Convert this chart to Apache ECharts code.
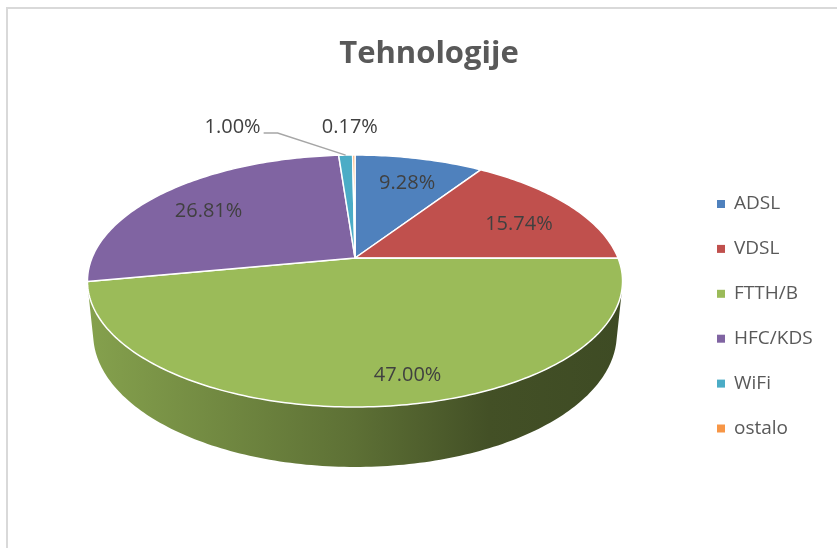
<!DOCTYPE html>
<html>
<head>
<meta charset="utf-8">
<script src="https://cdn.jsdelivr.net/npm/echarts@6/dist/echarts.min.js"></script>
<style>
html, body { margin: 0; padding: 0; background: #fff; }
#wrap { position: relative; width: 837px; height: 548px; overflow: hidden; }
#chart { width: 837px; height: 548px; }
#frame { position: absolute; left: 6px; top: 7px; right: -10px; bottom: -10px;
         border-left: 2px solid #d9d9d9; border-top: 2px solid #d9d9d9; pointer-events: none; }
</style>
</head>
<body>
<div id="wrap"><div id="chart"></div><div id="frame"></div></div>
<script>
// data
var categories = ['ADSL', 'VDSL', 'FTTH/B', 'HFC/KDS', 'WiFi', 'ostalo'];
var shares = [9.28, 15.74, 47.00, 26.81, 1.00, 0.17];
var colors = ['#4f81bd', '#c0504d', '#9bbb59', '#8064a2', '#4bacc6', '#f79646'];

// 3d look of the pie (excel style perspective)
var cam = { cx: 355, cy: 258, fx: 1280, fy: 1294, dist: 4.866, tilt: 27.26, depth: 0.226 };
// small screen nudges for the % labels, like excel puts them
var labelNudge = [[5, -2], [11, 4], [33, 20], [-11, 1], [-85, -28], [-4, -28]];

var total = shares.reduce(function (a, b) { return a + b; }, 0);
var pieData = [];
var acc = 0;
for (var i = 0; i < shares.length; i++) {
    pieData.push({ name: categories[i], value: [acc / total * 360, (acc + shares[i]) / total * 360, shares[i]] });
    acc += shares[i];
}

function project(deg, r, yw) {
    var t = deg * Math.PI / 180, a = cam.tilt * Math.PI / 180;
    var X = r * Math.sin(t), Z = r * Math.cos(t);
    var yc = yw * Math.cos(a) + Z * Math.sin(a);
    var w = cam.dist + Z * Math.cos(a) - yw * Math.sin(a);
    return [cam.cx + cam.fx * X / w, cam.cy - cam.fy * yc / w];
}

function arc(from, to, r, yw) {
    var n = Math.max(2, Math.ceil(Math.abs(to - from)));
    var pts = [];
    for (var k = 0; k <= n; k++) {
        pts.push(project(from + (to - from) * k / n, r, yw));
    }
    return pts;
}

function shade(hex, k) {
    var r = parseInt(hex.slice(1, 3), 16), g = parseInt(hex.slice(3, 5), 16), b = parseInt(hex.slice(5, 7), 16);
    return 'rgb(' + Math.round(r * k) + ',' + Math.round(g * k) + ',' + Math.round(b * k) + ')';
}

// where the side wall turns away from the viewer
var edgeR = Math.acos(-1 / (cam.dist * Math.cos(cam.tilt * Math.PI / 180))) * 180 / Math.PI;
var edgeL = 360 - edgeR;

function renderWall(params, api) {
    var t1 = Math.max(api.value(0), edgeR);
    var t2 = Math.min(api.value(1), edgeL);
    if (t2 <= t1) return null;
    var top = arc(t1, t2, 1, 0);
    var bottom = arc(t2, t1, 1, -cam.depth);
    var c = colors[params.dataIndex];
    var left = project(edgeL, 1, 0)[0], right = project(edgeR, 1, 0)[0];
    return {
        type: 'polygon',
        shape: { points: top.concat(bottom) },
        style: {
            fill: {
                type: 'linear', global: true, x: left, y: 0, x2: right, y2: 0,
                colorStops: [
                    { offset: 0, color: shade(c, 0.86) },
                    { offset: 0.5, color: shade(c, 0.6) },
                    { offset: 0.75, color: shade(c, 0.43) },
                    { offset: 1, color: shade(c, 0.4) }
                ]
            }
        }
    };
}

var labelFont = '20px "Open Sans"';

function renderTop(params, api) {
    var i = params.dataIndex;
    var t1 = api.value(0), t2 = api.value(1), pct = api.value(2);
    var mid = (t1 + t2) / 2;
    var pts = [project(0, 0, 0)].concat(arc(t1, t2, 1, 0));
    var children = [{
        type: 'polygon',
        shape: { points: pts },
        style: { fill: colors[i], stroke: '#fff', lineWidth: 1.5, lineJoin: 'round' }
    }];
    var nd = labelNudge[i];
    var txt = pct.toFixed(2) + '%';
    if (pct >= 2) {
        var p = project(mid, 0.7, 0);
        children.push({
            type: 'text', z2: 10,
            style: { text: txt, x: p[0] + nd[0], y: p[1] + nd[1], fill: '#404040',
                     font: labelFont, align: 'center', verticalAlign: 'middle' }
        });
    } else {
        var a = project(mid, 1, 0);
        if (nd[0] < -30) {
            children.push({
                type: 'polyline', z2: 10,
                shape: { points: [a, [a[0] + nd[0] + 17, a[1] - 22], [a[0] + nd[0] + 3, a[1] - 22]] },
                style: { stroke: '#a6a6a6', lineWidth: 1.5, fill: null }
            });
            children.push({
                type: 'text', z2: 10,
                style: { text: txt, x: a[0] + nd[0], y: a[1] + nd[1], fill: '#404040',
                         font: labelFont, align: 'right', verticalAlign: 'middle' }
            });
        } else {
            children.push({
                type: 'text', z2: 10,
                style: { text: txt, x: a[0] + nd[0], y: a[1] + nd[1], fill: '#404040',
                         font: labelFont, align: 'center', verticalAlign: 'middle' }
            });
        }
    }
    return { type: 'group', children: children };
}

var chartDom = document.getElementById('chart');
var myChart = echarts.init(chartDom, null, { renderer: 'canvas' });

var series = [{
    type: 'custom', name: 'wall', coordinateSystem: 'none', z: 1, silent: true,
    data: pieData, renderItem: renderWall
}, {
    type: 'custom', name: 'top', coordinateSystem: 'none', z: 2,
    data: pieData, renderItem: renderTop
}];
// empty series only to get the legend entries
categories.forEach(function (name, k) {
    series.push({
        type: 'custom', name: name, coordinateSystem: 'none', data: [],
        itemStyle: { color: colors[k] }, renderItem: function () { return null; }
    });
});

var option = {
    backgroundColor: '#fff',
    animation: false,
    title: {
        text: 'Tehnologije',
        left: 424, top: 30, textAlign: 'center',
        textStyle: { fontSize: 31, fontWeight: 'bold', color: '#595959', fontFamily: 'Open Sans', lineHeight: 38 }
    },
    legend: {
        data: categories,
        orient: 'vertical',
        left: 717, top: 194,
        padding: 0,
        icon: 'rect',
        itemWidth: 8, itemHeight: 8,
        itemGap: 24.9,
        textStyle: { fontSize: 19, color: '#595959', fontFamily: 'Open Sans', lineHeight: 20, padding: [0, 0, 0, 4] }
    },
    series: series
};
option && myChart.setOption(option);
</script>
</body>
</html>
